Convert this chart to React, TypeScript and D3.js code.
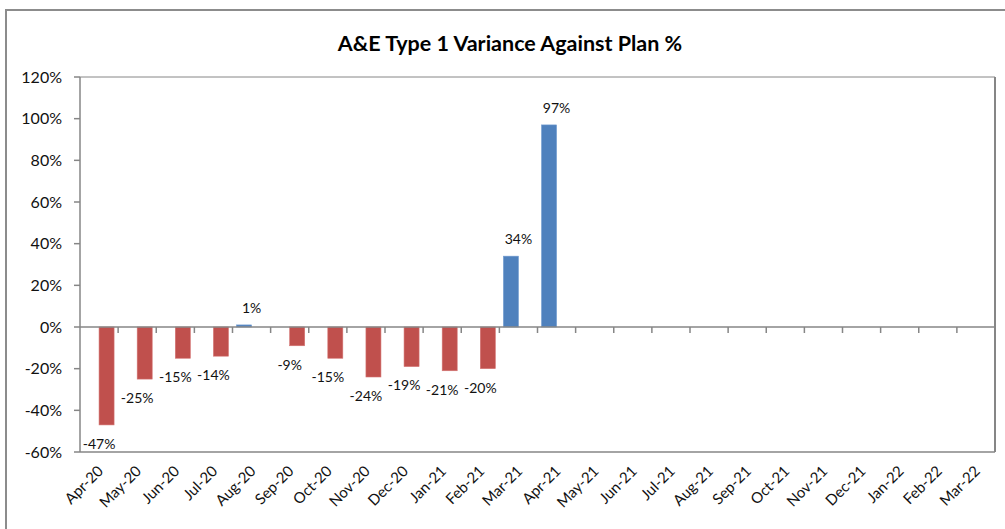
import React from "react";
import * as d3 from "d3";

const months = [
  "Apr-20", "May-20", "Jun-20", "Jul-20", "Aug-20", "Sep-20", "Oct-20", "Nov-20",
  "Dec-20", "Jan-21", "Feb-21", "Mar-21", "Apr-21", "May-21", "Jun-21", "Jul-21",
  "Aug-21", "Sep-21", "Oct-21", "Nov-21", "Dec-21", "Jan-22", "Feb-22", "Mar-22",
];
const variance: (number | null)[] = [
  -47, -25, -15, -14, 1, -9, -15, -24, -19, -21, -20, 34, 97,
  null, null, null, null, null, null, null, null, null, null, null,
];
const yTicks = [-60, -40, -20, 0, 20, 40, 60, 80, 100, 120];
const title = "A&E Type 1 Variance Against Plan %";

const BLUE = "#4F81BD";
const RED = "#C0504D";
const AXIS = "#868686";
const FONT = "Lato, 'Liberation Sans', sans-serif";

export default function App() {
  const W = 1005, H = 529;
  const left = 80, right = 995, top = 77, bottom = 452;

  const x = d3.scaleBand<string>().domain(months).range([left, right]).paddingInner(0).paddingOuter(0);
  const sub = d3.scaleBand<string>().domain(["pos", "neg"]).range([0, x.bandwidth()]).paddingInner(0).paddingOuter(0.27);
  const y = d3.scaleLinear().domain([-60, 120]).range([bottom, top]);
  const y0 = y(0);

  const bars = months.map((m, i) => {
    const v = variance[i];
    if (v === null || v === undefined) return null;
    const series = v >= 0 ? "pos" : "neg";
    const bx = (x(m) as number) + (sub(series) as number);
    const yTop = Math.min(y(v), y0);
    const h = Math.abs(y(v) - y0);
    return { m, v, bx, yTop, h, color: v >= 0 ? BLUE : RED, cx: (x(m) as number) + x.bandwidth() / 2 };
  }).filter(Boolean) as any[];

  return (
    <svg width={W} height={H} style={{ position: "absolute", left: 0, top: 0, background: "#fff" }}>
      {/* outer frame */}
      <rect x={6} y={10} width={1010} height={540} fill="#fff" stroke="#8c8c8c" strokeWidth={2} />
      {/* title */}
      <text x={510} y={51} textAnchor="middle" fontFamily={FONT} fontWeight="bold" fontSize={21.5} fill="#000">
        {title}
      </text>
      {/* plot area border */}
      <line x1={left} x2={right} y1={top} y2={top} stroke={AXIS} strokeWidth={1} />
      <line x1={right} x2={right} y1={top} y2={bottom} stroke={AXIS} strokeWidth={2} />
      <line x1={left} x2={right} y1={bottom} y2={bottom} stroke={AXIS} strokeWidth={1.5} />
      {/* y axis */}
      <line x1={left} x2={left} y1={top} y2={bottom} stroke={AXIS} strokeWidth={1.5} />
      {yTicks.map((t) => (
        <g key={t}>
          <line x1={left - 6} x2={left} y1={y(t)} y2={y(t)} stroke={AXIS} strokeWidth={1.5} />
          <text x={62} y={y(t)} dy="0.36em" textAnchor="end" fontFamily={FONT} fontSize={16} fill="#111">
            {t}%
          </text>
        </g>
      ))}
      {/* bars */}
      {bars.map((b) => (
        <rect key={b.m} x={b.bx} y={b.yTop} width={sub.bandwidth()} height={b.h} fill={b.color} stroke={b.v >= 0 ? "#6f9ad0" : "#d47472"} strokeWidth={0.6} />
      ))}
      {/* zero axis with ticks */}
      <line x1={left} x2={right} y1={y0} y2={y0} stroke={AXIS} strokeWidth={1.5} />
      {months.map((m) => (
        <line key={m} x1={(x(m) as number) + x.bandwidth()} x2={(x(m) as number) + x.bandwidth()} y1={y0} y2={y0 + 6} stroke={AXIS} strokeWidth={1.5} />
      ))}
      {/* data labels */}
      {bars.map((b) => (
        <text key={"l" + b.m} x={b.cx} y={b.v >= 0 ? y(b.v) - 17 : y(b.v) + 19} dy="0.35em" textAnchor="middle" fontFamily={FONT} fontSize={14} fill="#111">
          {b.v}%
        </text>
      ))}
      {/* x labels */}
      {months.map((m) => {
        const cx = (x(m) as number) + x.bandwidth() / 2;
        return (
          <text key={"x" + m} transform={`translate(${cx + 5},${472}) rotate(-45)`} textAnchor="end" fontFamily={FONT} fontSize={15} fill="#111">
            {m}
          </text>
        );
      })}
    </svg>
  );
}
